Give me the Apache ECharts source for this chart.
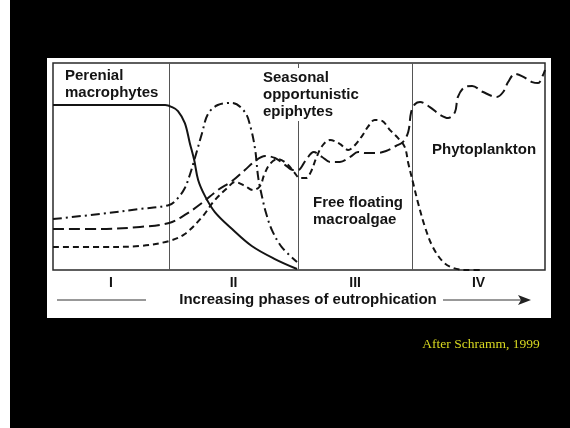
<!DOCTYPE html>
<html><head><meta charset="utf-8">
<script src="https://cdn.jsdelivr.net/npm/echarts@6/dist/echarts.min.js"></script>
<style>html,body{margin:0;padding:0;background:#000;}#c{width:570px;height:428px;}</style>
</head><body><div id="c"></div>
<script>
// phase boundaries on a 0-100 "eutrophication" scale
const phaseBounds = [0, 23.6, 49.8, 73.0, 100];
const phaseLabels = ['I', 'II', 'III', 'IV'];

// Perenial macrophytes (solid)
const macrophytes = [[0,79.7],[22.8,79.7],[24.2,78.7],[25.4,76.8],[26.8,71.0],[27.8,61.4],[28.7,53.1],[29.5,43.5],[30.9,35.7],[32.9,28.0],[36.4,19.8],[40.4,11.6],[45.1,5.3],[49.6,0.5]];

// Seasonal opportunistic epiphytes (dash-dot)
const epiphytes = [[0,24.6],[9.6,27.1],[17.7,29.5],[23.6,31.4],[25.4,34.8],[26.8,39.6],[27.8,45.9],[28.9,54.6],[30.3,66.2],[31.5,75.4],[33.5,79.7],[36.4,80.7],[39.0,76.3],[40.2,68.6],[41.1,58.0],[41.7,44.9],[42.5,35.3],[43.3,27.5],[44.5,19.3],[46.5,11.1],[49.6,3.9]];

// Phytoplankton (long dash)
const phytoplankton = [[0,19.8],[9.6,19.8],[17.7,20.8],[23.6,22.7],[26.8,26.6],[30.3,32.4],[33.5,38.6],[36.4,43.0],[39.0,48.3],[41.1,52.7],[43.1,55.1],[45.1,54.1],[47.2,50.7],[48.8,48.3],[49.8,48.3],[51.4,53.1],[53.0,57.0],[54.7,54.6],[56.3,52.2],[58.3,52.2],[60.4,54.6],[62.0,57.0],[63.6,56.5],[65.7,56.5],[67.7,57.5],[69.7,59.9],[71.1,61.8],[72.2,66.7],[72.8,76.3],[73.6,80.2],[74.6,81.2],[76.6,78.7],[78.7,74.9],[80.3,73.4],[81.7,76.3],[82.3,83.6],[83.7,88.4],[85.2,88.9],[87.4,86.0],[90.2,83.6],[91.5,86.0],[92.5,90.8],[93.9,94.7],[95.3,93.7],[97.4,90.8],[98.6,90.3],[99.6,94.2],[100,96.6]];

// Free floating macroalgae (short dash)
const macroalgae = [[0,11.1],[9.6,11.1],[17.7,11.6],[23.6,14.0],[26.8,17.4],[30.3,25.6],[32.9,33.8],[35.4,39.6],[37.0,42.5],[39.0,40.6],[40.7,38.6],[42.1,40.6],[42.9,45.9],[44.1,51.2],[45.7,53.6],[47.6,51.2],[49.0,47.3],[50.2,44.4],[51.4,44.4],[52.4,47.3],[53.5,54.1],[54.7,59.9],[56.3,62.8],[58.3,60.9],[60.0,58.0],[61.4,60.4],[62.8,64.7],[64.0,69.1],[65.4,72.5],[66.9,72.0],[68.5,67.6],[70.1,63.8],[71.5,59.4],[72.2,51.7],[73.2,42.0],[74.2,32.4],[75.6,20.8],[77.2,11.1],[79.3,3.9],[81.3,1.0],[84.1,0],[87.4,0]];

const FONT = '"Liberation Sans", Arial, Helvetica, sans-serif';
const INK = '#141414';

function lineSeries(name, data, type, extra) {
  return Object.assign({
    name: name, type: 'line', data: data, showSymbol: false, smooth: 0.35,
    lineStyle: { color: INK, width: 2, type: type }, silent: true, z: 5
  }, extra || {});
}

const chart = echarts.init(document.getElementById('c'), null, { renderer: 'canvas' });
chart.setOption({
  backgroundColor: '#000',
  animation: false,
  grid: { left: 53, top: 63, width: 492, height: 207, show: true, backgroundColor: '#fff', borderColor: '#2a2a2a', borderWidth: 1.5 },
  xAxis: { type: 'value', min: 0, max: 100, axisLine: { show: false }, axisTick: { show: false }, axisLabel: { show: false }, splitLine: { show: false } },
  yAxis: { type: 'value', min: 0, max: 100, axisLine: { show: false }, axisTick: { show: false }, axisLabel: { show: false }, splitLine: { show: false } },
  series: [
    lineSeries('Perenial macrophytes', macrophytes, 'solid', {
      markLine: { silent: true, symbol: 'none', label: { show: false },
        lineStyle: { color: '#555', width: 1, type: 'solid' },
        data: phaseBounds.slice(1, 4).map(v => ({ xAxis: v })) }
    }),
    lineSeries('Seasonal opportunistic epiphytes', epiphytes, [9, 4, 2, 4]),
    lineSeries('Phytoplankton', phytoplankton, [11, 5]),
    lineSeries('Free floating macroalgae', macroalgae, [6, 4])
  ]
});

const txt = (x, y, s, opt) => ({
  type: 'text', x: x, y: y, z: 100,
  style: Object.assign({ text: s, fill: INK, font: 'bold 15px ' + FONT, textVerticalAlign: 'middle', lineHeight: 17 }, opt || {})
});

const graphics = [
  { type: 'rect', shape: { x: 0, y: 0, width: 10, height: 428 }, style: { fill: '#fff' }, z: -10 },
  { type: 'rect', shape: { x: 47, y: 58, width: 504, height: 260 }, style: { fill: '#fff' }, z: -10 },
  { type: 'rect', shape: { x: 261, y: 68, width: 102, height: 53 }, style: { fill: '#fff' }, z: 90 },
  txt(65, 84, 'Perenial\nmacrophytes'),
  txt(263, 95, 'Seasonal\nopportunistic\nepiphytes'),
  txt(432, 150, 'Phytoplankton'),
  txt(313, 211, 'Free floating\nmacroalgae'),
  txt(308, 300, 'Increasing phases of eutrophication', { textAlign: 'center' }),
  { type: 'line', shape: { x1: 57, y1: 300, x2: 146, y2: 300 }, style: { stroke: '#333', lineWidth: 1 }, z: 100 },
  { type: 'line', shape: { x1: 443, y1: 300, x2: 524, y2: 300 }, style: { stroke: '#333', lineWidth: 1 }, z: 100 },
  { type: 'polygon', shape: { points: [[531, 300], [518, 295], [521, 300], [518, 305]] }, style: { fill: '#222' }, z: 100 },
  { type: 'text', x: 481, y: 344, z: 100, style: { text: 'After Schramm, 1999', fill: '#d8d820', font: '13.5px "Liberation Serif", "Times New Roman", serif', textAlign: 'center', textVerticalAlign: 'middle' } }
];

phaseLabels.forEach((lab, i) => {
  const mid = (phaseBounds[i] + phaseBounds[i + 1]) / 2;
  const p = chart.convertToPixel({ gridIndex: 0 }, [mid, 0]);
  graphics.push(txt(p[0], p[1] + 13, lab, { textAlign: 'center', font: 'bold 14px ' + FONT }));
});

chart.setOption({ graphic: graphics });
</script></body></html>
